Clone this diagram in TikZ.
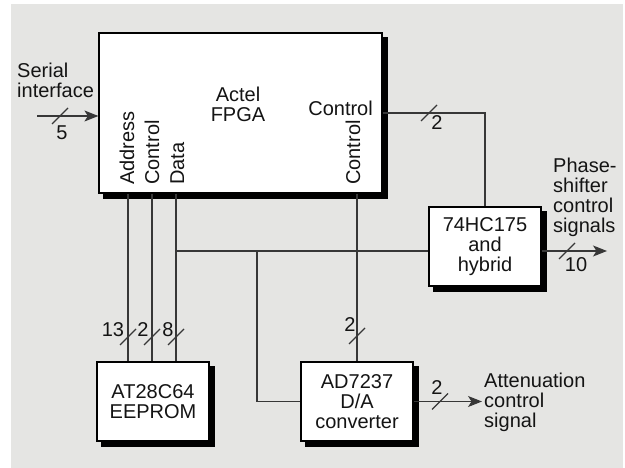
\documentclass[tikz,border=0pt]{standalone}
\usepackage{fontspec}
\setmainfont{Liberation Sans}
\usetikzlibrary{arrows.meta,calc,backgrounds}
\definecolor{bg}{RGB}{229,229,227}
\definecolor{ink}{RGB}{20,20,20}
\definecolor{wire}{RGB}{55,55,55}
\newcommand\busslash[2]{\draw[wirel] (#1-8,#2+8) -- ++(16,-16);}
\newcommand\boxshadow[1]{\fill[black] ($(#1.south west)+(5,5)$) rectangle ($(#1.north east)+(5,5)$);}
\begin{document}
\begin{tikzpicture}[x=1bp,y=-1bp,
  every node/.style={font=\fontsize{20bp}{20bp}\selectfont, text=ink, inner sep=0pt},
  blk/.style={draw=black, line width=1.2bp, fill=white, minimum width=112bp, minimum height=79bp, align=center},
  wirel/.style={draw=wire, line width=1.1bp},
  arr/.style={wirel, -{Stealth[length=14bp,width=11bp,inset=3.5bp]}},
  lbl/.style={anchor=base},
  vlbl/.style={rotate=90, anchor=base west}]
\useasboundingbox (0,0) rectangle (625,468);

% blocks
\node[blk, minimum width=283bp, minimum height=160bp] (fpga) at (240.5,113) {};
\node[anchor=north, align=center] (fpgat) at (238,86.5) {Actel\\FPGA};
\node[blk] (eep) at (153,401.5) {AT28C64\\EEPROM};
\node[blk] (dac) at (357,401.5) {AD7237\\D/A\\converter};
\node[blk] (hyb) at (485,246.5) {74HC175\\and\\hybrid};

\begin{pgfonlayer}{background}
\fill[bg] (11,4) rectangle (623,468);
\boxshadow{fpga}
\boxshadow{eep}
\boxshadow{dac}
\boxshadow{hyb}
\end{pgfonlayer}

% helper coordinates
\coordinate (sin) at (37,116);
\coordinate (xa) at (128,0);
\coordinate (xc) at (152,0);
\coordinate (xd) at (176,0);
\coordinate (xb) at (257,0);
\coordinate (bus) at (0,251);
\coordinate (pso) at (607,251);
\coordinate (atk) at (482,401.5);

% connectors
\draw[arr] (sin) -- (sin -| fpga.west);
\draw[wirel] (fpga.south -| xa) -- (eep.north -| xa);
\draw[wirel] (fpga.south -| xc) -- (eep.north -| xc);
\draw[wirel] (fpga.south -| xd) -- (eep.north -| xd);
\draw[wirel] (bus -| xd) -- (bus -| hyb.west);
\draw[wirel] (bus -| xb) -- (xb |- dac.west) -- (dac.west);
\draw[wirel] (fpga.south -| dac.north) -- (dac.north);
\draw[wirel] (fpga.east) -| (hyb.north);
\draw[arr] (bus -| hyb.east) -- (pso);
\draw[arr] (dac.east) -- (atk);

% bus width marks
\busslash{60}{116}
\busslash{429}{113}
\busslash{128}{337}
\busslash{152}{337}
\busslash{176}{337}
\busslash{357}{336}
\busslash{440}{401.5}
\busslash{567}{251}

% labels
\node[lbl] (n5) at (62,140) {5};
\node[lbl] (n2a) at (437,130) {2};
\node[lbl] (n13) at (113,336) {13};
\node[lbl] (n2b) at (143,336) {2};
\node[lbl] (n8) at (168,336) {8};
\node[lbl] (n2c) at (350,331) {2};
\node[lbl] (n2d) at (437,394) {2};
\node[lbl] (n10) at (576,272) {10};
\node[anchor=north west, align=left] (ser) at (17,62.5) {Serial\\interface};
\node[anchor=base east] (ctl) at (373,116) {Control};
\node[vlbl] (adr) at (134,185) {Address};
\node[vlbl] (ctl2) at (159,185) {Control};
\node[vlbl] (dat) at (184,185) {Data};
\node[vlbl] (ctl3) at (360,185) {Control};
\node[anchor=north west, align=left] (phs) at (553,157.5) {Phase-\\shifter\\control\\signals};
\node[anchor=north west, align=left] (att) at (484,372.5) {Attenuation\\control\\signal};
\end{tikzpicture}
\end{document}
